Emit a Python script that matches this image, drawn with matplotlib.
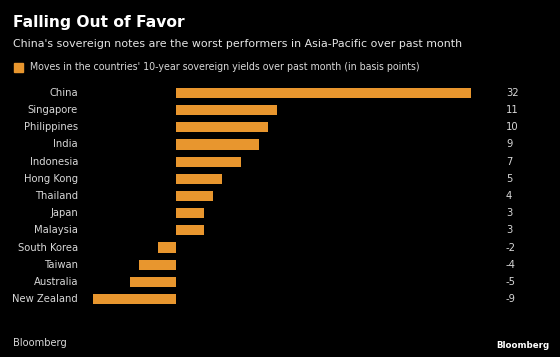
import matplotlib.pyplot as plt
import matplotlib.transforms as mtransforms

# Data
countries = ['China', 'Singapore', 'Philippines', 'India', 'Indonesia', 'Hong Kong',
             'Thailand', 'Japan', 'Malaysia', 'South Korea', 'Taiwan', 'Australia',
             'New Zealand']
moves = [32, 11, 10, 9, 7, 5, 4, 3, 3, -2, -4, -5, -9]

W, H = 560, 357
bg = '#000000'
bar_color = '#e8962e'
text_color = '#d8d8d8'

fig = plt.figure(figsize=(W / 100, H / 100), dpi=100, facecolor=bg)

# axes spans the data range (-9 .. 32) horizontally
ax = fig.add_axes([93 / W, 1 - 307.6 / H, (471 - 93) / W, (307.6 - 84.4) / H])
ax.set_facecolor(bg)
ypos = list(range(len(countries)))
ax.barh(ypos, moves, height=0.6, color=bar_color)
ax.set_xlim(-9, 32)
ax.set_ylim(len(countries) - 0.5, -0.5)
ax.axis('off')

trans = mtransforms.blended_transform_factory(fig.transFigure, ax.transData)
for y, name, val in zip(ypos, countries, moves):
    ax.text(78 / W, y, name, transform=trans, ha='right', va='center',
            color=text_color, fontsize=7.2)
    ax.text(506 / W, y, str(val), transform=trans, ha='left', va='center',
            color=text_color, fontsize=7.2)

# titles
fig.text(13 / W, 1 - 23 / H, 'Falling Out of Favor', color='white',
         fontsize=11.2, fontweight='bold', va='center')
fig.text(13 / W, 1 - 44 / H,
         "China's sovereign notes are the worst performers in Asia-Pacific over past month",
         color='#e6e6e6', fontsize=7.9, va='center')

# legend
fig.patches.append(plt.Rectangle((14 / W, 1 - 72 / H), 9 / W, 9 / H,
                                 transform=fig.transFigure, color=bar_color))
fig.text(30 / W, 1 - 67 / H,
         "Moves in the countries' 10-year sovereign yields over past month (in basis points)",
         color=text_color, fontsize=6.85, va='center')

# footer
fig.text(13 / W, 1 - 343 / H, 'Bloomberg', color=text_color, fontsize=7.1, va='center')
fig.text(549 / W, 1 - 345 / H, 'Bloomberg', color='white', fontsize=6.2,
         fontweight='bold', ha='right', va='center')

fig.savefig('out.png', dpi=100, facecolor=bg)
